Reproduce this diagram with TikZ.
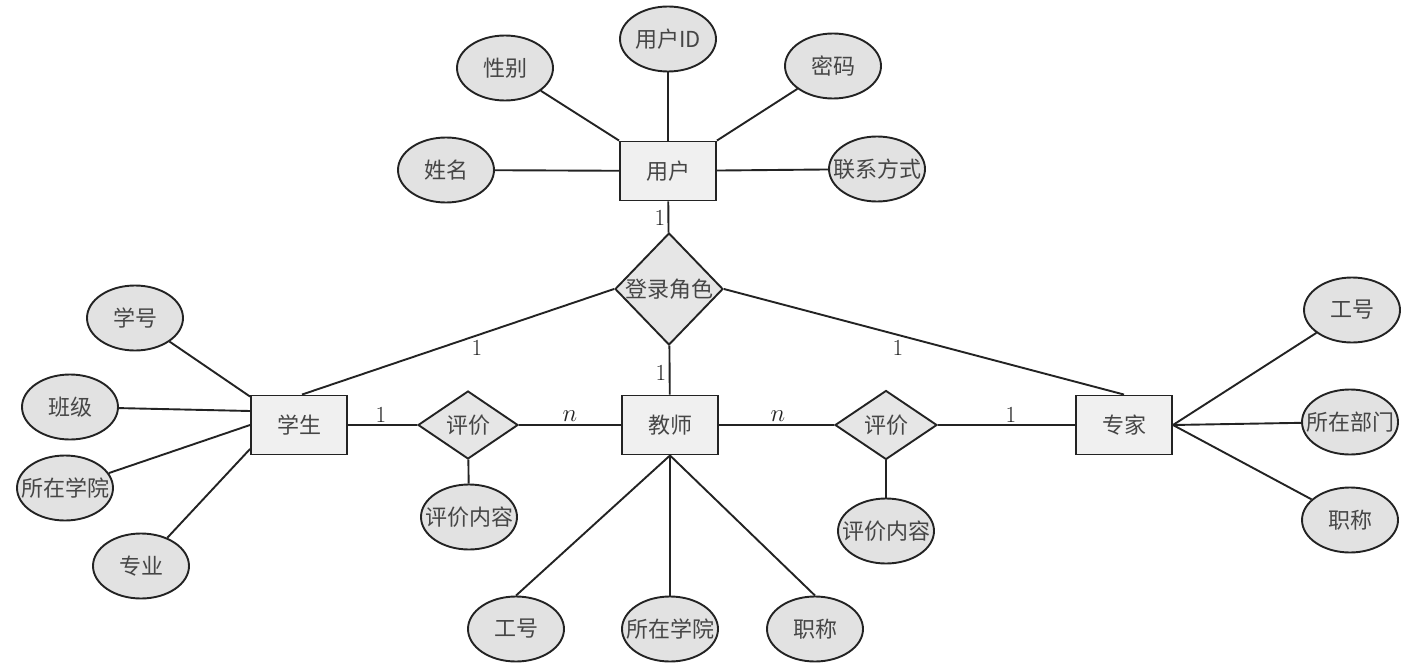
\documentclass[tikz,border=0pt]{standalone}
\usepackage{fontspec}
\newfontfamily\cjk{Noto Sans CJK SC}
\usetikzlibrary{shapes.geometric}
\definecolor{lc}{RGB}{35,35,35}
\definecolor{rectfill}{RGB}{240,240,240}
\definecolor{ellfill}{RGB}{226,226,226}
\definecolor{dfill}{RGB}{230,230,230}
\definecolor{tc}{RGB}{70,70,70}
\begin{document}
\begin{tikzpicture}[x=1pt,y=-1pt,
  txt/.style={font=\cjk\fontsize{22}{26}\selectfont, text=tc, inner sep=0pt},
  ent/.style={draw=lc, fill=rectfill, line width=1.9pt, minimum width=96pt, minimum height=59pt, inner sep=0pt, label={[txt]center:#1}},
  attr/.style={ellipse, draw=lc, fill=ellfill, line width=1.9pt, minimum width=96pt, minimum height=65pt, inner sep=0pt, label={[txt]center:#1}},
  rel/.style={diamond, draw=lc, fill=dfill, line width=1.9pt, inner sep=0pt, label={[txt]center:#1}},
  card/.style={font=\fontsize{23}{26}\selectfont, text=lc, inner sep=0pt},
  conn/.style={draw=lc, line width=1.9pt}]
\useasboundingbox[fill=white] (0,0) rectangle (1413,666);

% nodes
\node[ent=用户] (yh) at (668,171) {};
\node[ent=学生] (xs) at (299,425) {};
\node[ent=教师] (js) at (670,425) {};
\node[ent=专家] (zj) at (1124,425) {};
\node[rel=登录角色, minimum width=108pt, minimum height=112pt] (dl) at (669,289) {};
\node[rel=评价, minimum width=100pt, minimum height=68pt] (pj1) at (468,425) {};
\node[rel=评价, minimum width=102pt, minimum height=69pt] (pj2) at (886,425) {};
\node[attr=性别] (xb) at (505,68) {};
\node[attr=用户ID] (yid) at (668,39) {};
\node[attr=密码] (mm) at (833,66) {};
\node[attr=姓名] (xm) at (446,170) {};
\node[attr=联系方式] (lx) at (877,169) {};
\node[attr=评价内容] (nr1) at (469,517) {};
\node[attr=评价内容] (nr2) at (886,531) {};
\node[attr=学号] (xh) at (135,318) {};
\node[attr=班级] (bj) at (70,407) {};
\node[attr=所在学院] (xy1) at (65,488) {};
\node[attr=专业] (zy) at (141,566) {};
\node[attr=工号] (gh1) at (516,629) {};
\node[attr=所在学院] (xy2) at (670,629) {};
\node[attr=职称] (zc1) at (815,629) {};
\node[attr=工号] (gh2) at (1352,310) {};
\node[attr=所在部门] (bm) at (1350,422) {};
\node[attr=职称] (zc2) at (1350,520) {};

% connectors
\path[conn] (xb) -- (yh.north west);
\path[conn] (yid) -- (yh);
\path[conn] (mm) -- (yh.north east);
\path[conn] (xm) -- (yh);
\path[conn] (lx) -- (yh);
\path[conn] (yh) -- (dl);
\path[conn] (dl.west) -- ([xshift=3pt]xs.north);
\path[conn] (dl.east) -- (zj.north);
\path[conn] (dl) -- (js);
\path[conn] (xs) -- (pj1);
\path[conn] (pj1) -- (js);
\path[conn] (js) -- (pj2);
\path[conn] (pj2) -- (zj);
\path[conn] (pj1) -- (nr1);
\path[conn] (pj2) -- (nr2);
\path[conn] (xh) -- ([yshift=-2pt]xs.north west);
\path[conn] (bj) -- ([yshift=14pt]xs.west);
\path[conn] (xy1) -- (xs.west);
\path[conn] (zy) -- ([yshift=-24pt]xs.west);
\path[conn] (js.south) -- (gh1.north);
\path[conn] (js.south) -- (xy2);
\path[conn] (js.south) -- (zc1.north);
\path[conn] (zj.east) -- (gh2);
\path[conn] (zj.east) -- (bm);
\path[conn] (zj.east) -- (zc2);

% cardinalities
\node[card] (c1) at (660,218) {1};
\node[card] (c2) at (661,373) {1};
\node[card] (c3) at (477,348) {1};
\node[card] (c4) at (898,348) {1};
\node[card] (c5) at (381,415) {1};
\node[card] (c6) at (570,416) {$n$};
\node[card] (c7) at (778,416) {$n$};
\node[card] (c8) at (1011,415) {1};
\end{tikzpicture}
\end{document}
